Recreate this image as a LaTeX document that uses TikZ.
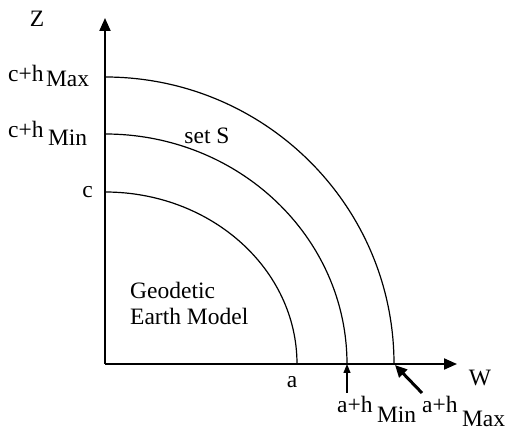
\documentclass[tikz,border=0pt]{standalone}
\usepackage{fontspec}
\setmainfont{Liberation Serif}
\usetikzlibrary{positioning, arrows.meta}

\begin{document}
\begin{tikzpicture}[
        x=1pt, y=1pt,
        every node/.style={font=\fontsize{23.5}{26}\selectfont, inner sep=0pt},
        lbl/.style={anchor=base west},
        axis/.style={line width=2pt, -{Triangle[length=13pt, width=11pt]}},
        shell/.style={line width=1.2pt},
        pointer/.style={line width=1.2pt, -{Triangle[length=9pt, width=7pt]}},
        bigpointer/.style={line width=3pt, -{Triangle[length=12pt, width=11pt]}}
    ]
        \useasboundingbox (0,0) rectangle (509,431);

        % Axes
        \coordinate (O) at (105,67);
        \coordinate (ztip) at (105,413);
        \coordinate (wtip) at (457,67);
        \draw[axis] (O) -- (ztip);
        \draw[axis] (O) -- (wtip);

        % Shells
        \draw[shell] (105,239) arc[start angle=90, end angle=0, x radius=192, y radius=172];
        \draw[shell] (105,297) arc[start angle=90, end angle=0, x radius=242, y radius=230];
        \draw[shell] (105,354) arc[start angle=90, end angle=0, x radius=289, y radius=287];

        % Labels on Z
        \node (zlabel) at (37,412) {Z};
        \node[lbl] (chmax) at (8,349) {c+h};
        \node[lbl] (chmaxsub) at ([xshift=2pt, yshift=-5pt]chmax.base east) {Max};
        \node[lbl] (chmin) at (8,293) {c+h};
        \node[lbl] (chminsub) at ([xshift=4pt, yshift=-8pt]chmin.base east) {Min};
        \node[anchor=east] (clabel) at (93,239) {c};

        % Inside
        \node (setS) at (207,295) {set S};
        \node[lbl] (geo) at (130,132) {Geodetic};
        \node[lbl] (earth) at ([yshift=-26pt]geo.base west) {Earth Model};

        % Labels on W
        \node (alabel) at (292,49) {a};
        \node[lbl] (ahmin) at (337,18) {a+h};
        \node[lbl] (ahminsub) at ([xshift=4pt, yshift=-10pt]ahmin.base east) {Min};
        \node[lbl] (ahmax) at (422,18) {a+h};
        \node[lbl] (ahmaxsub) at ([xshift=4pt, yshift=-14pt]ahmax.base east) {Max};
        \node (wlabel) at (480,53) {W};

        % Pointers
        \coordinate (amin) at (347,67);
        \coordinate (amintail) at (347,38);
        \coordinate (amax) at (395,66);
        \coordinate (amaxtail) at (422,38);
        \draw[pointer] (amintail) -- (amin);
        \draw[bigpointer] (amaxtail) -- (amax);
    \end{tikzpicture}
\end{document}
